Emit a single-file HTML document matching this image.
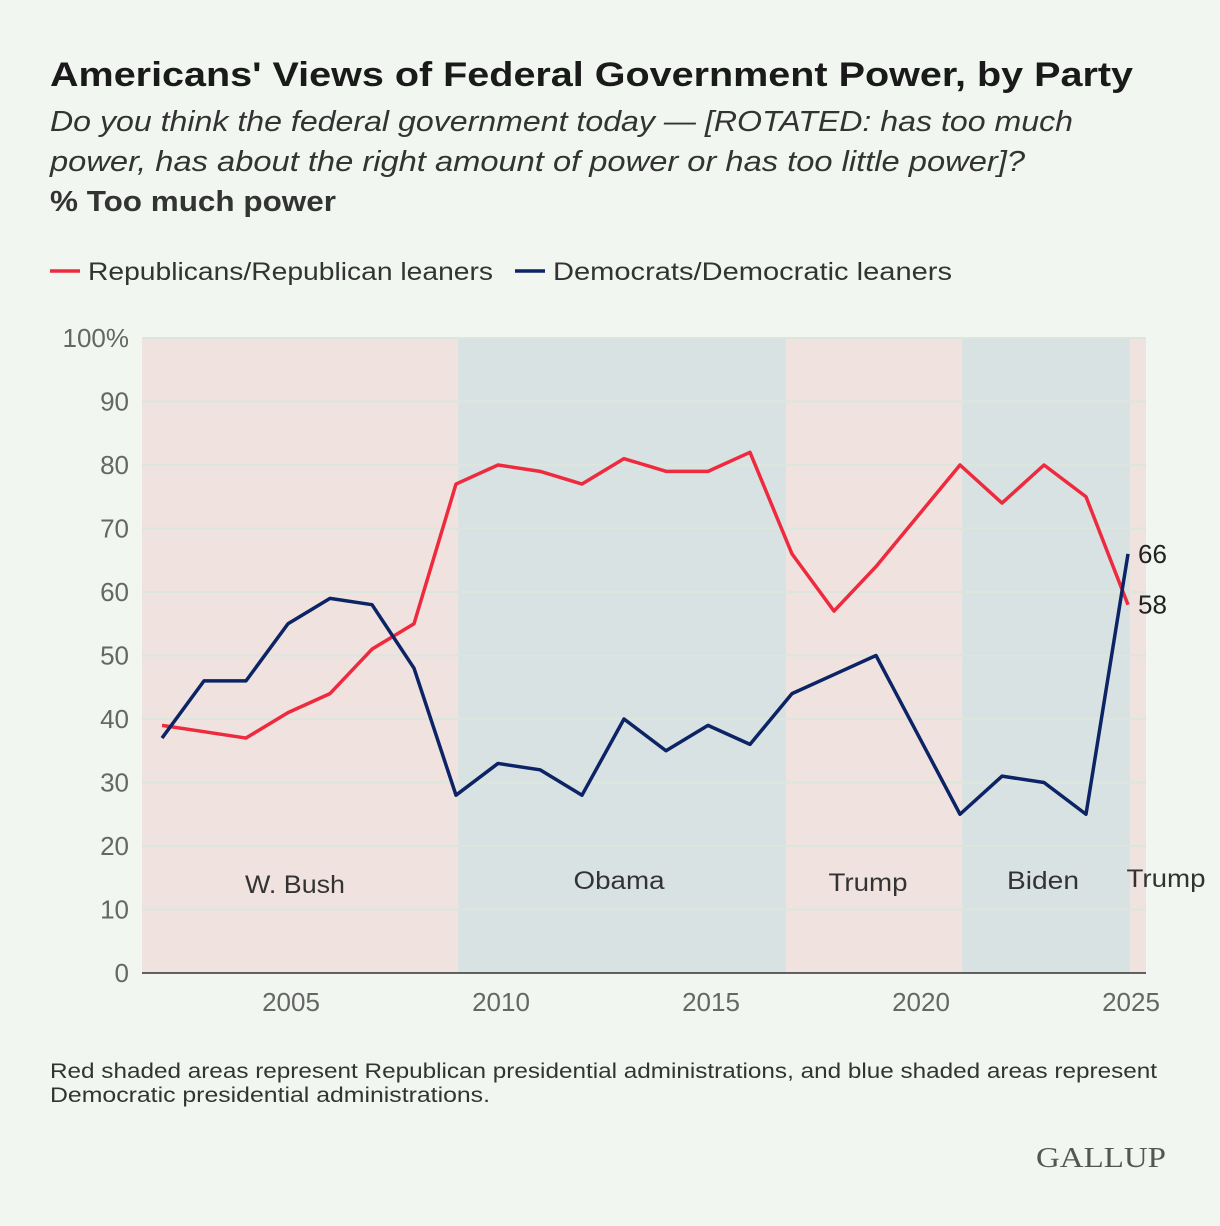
<!DOCTYPE html>
<html><head><meta charset="utf-8"><style>
body{margin:0;background:#f1f6f0;font-family:"Liberation Sans",sans-serif;}
#wrap{position:relative;width:1220px;height:1226px;background:#f1f6f0;overflow:hidden}
</style></head><body>
<div id="wrap">
<svg id="svg" width="1220" height="1226">
<text x="50" y="86" font-size="34" font-weight="bold" fill="#1a1a1a" textLength="1083" lengthAdjust="spacingAndGlyphs">Americans' Views of Federal Government Power, by Party</text>
<text x="50" y="131" font-size="29" font-style="italic" fill="#333" textLength="1023" lengthAdjust="spacingAndGlyphs">Do you think the federal government today — [ROTATED: has too much</text>
<text x="50" y="171" font-size="29" font-style="italic" fill="#333" textLength="975" lengthAdjust="spacingAndGlyphs">power, has about the right amount of power or has too little power]?</text>
<text x="50" y="211" font-size="29" font-weight="bold" fill="#333" textLength="286" lengthAdjust="spacingAndGlyphs">% Too much power</text>
<g>
<line x1="50" y1="271" x2="80" y2="271" stroke="#ee2a3e" stroke-width="3.5"/>
<text x="88" y="280" font-size="25" fill="#333" textLength="405" lengthAdjust="spacingAndGlyphs">Republicans/Republican leaners</text>
<line x1="515" y1="271" x2="545" y2="271" stroke="#0c2465" stroke-width="3.5"/>
<text x="553" y="280" font-size="25" fill="#333" textLength="399" lengthAdjust="spacingAndGlyphs">Democrats/Democratic leaners</text>
</g>
<g id="plot"></g>
<text x="50" y="1078" font-size="21" fill="#333" textLength="1107" lengthAdjust="spacingAndGlyphs">Red shaded areas represent Republican presidential administrations, and blue shaded areas represent</text>
<text x="50" y="1102" font-size="21" fill="#333" textLength="440" lengthAdjust="spacingAndGlyphs">Democratic presidential administrations.</text>
<text x="1166" y="1167" font-size="29" font-family="Liberation Serif,serif" fill="#555" text-anchor="end" textLength="130" lengthAdjust="spacingAndGlyphs">GALLUP</text>
</svg>
</div>
<script>
const years=[2002,2003,2004,2005,2006,2007,2008,2009,2010,2011,2012,2013,2014,2015,2016,2017,2018,2019,2021,2022,2023,2024,2025];
const repValues=[39,38,37,41,44,51,55,77,80,79,77,81,79,79,82,66,57,64,80,74,80,75,58];
const demValues=[37,46,46,55,59,58,48,28,33,32,28,40,35,39,36,44,47,50,25,31,30,25,66];
const yTicks=[0,10,20,30,40,50,60,70,80,90,100];
const xTicks=[2005,2010,2015,2020,2025];
const admins=[["W. Bush","r",2001.5,2009.05],["Obama","b",2009.05,2016.86],["Trump","r",2016.86,2021.05],["Biden","b",2021.05,2025.05],["Trump","r",2025.05,2026]];
const NS="http://www.w3.org/2000/svg";
const L=142,R=1146,T=338,B=973;
const x=v=>162+(v-2002)*42.0;
const y=v=>B-(v/100)*(B-T);
const g=document.getElementById('plot');
function mk(t,a){const e=document.createElementNS(NS,t);for(const k in a)e.setAttribute(k,a[k]);g.appendChild(e);return e;}
const labelPos=[[295,893,100],[619,889,91],[868,891,79],[1043,889,72],[1166,887,79]];
admins.forEach((a,i)=>{
 const x0=Math.max(L,x(a[2])),x1=Math.min(R,x(a[3]));
 const r=mk('rect',{x:x0,y:T,width:x1-x0,height:B-T,fill:a[1]=='r'?'#f0e3df':'#d9e2e2'});
 
 
 const p=labelPos[i];
 const t=mk('text',{x:p[0],y:p[1],'font-size':25,fill:'#333','text-anchor':'middle',textLength:p[2],lengthAdjust:'spacingAndGlyphs'});
 t.textContent=a[0];
 
 
});
yTicks.forEach(v=>{
 const l=mk('line',{x1:L,x2:R,y1:y(v),y2:y(v),stroke:v==0?'#333':'#dde6dd','stroke-width':v==0?1.5:2});
 
 
 const t=mk('text',{x:129,y:y(v)+9,'font-size':26,fill:'#666','text-anchor':'end'});
 t.textContent=v==100?'100%':v;
 
 
});
xTicks.forEach(v=>{
 const t=mk('text',{x:x(v)+3,y:1011,'font-size':26,fill:'#666','text-anchor':'middle'});
 t.textContent=v;
 
 
});
function line(vals,col,name){
 const p=mk('polyline',{points:years.map((yr,i)=>x(yr)+','+y(vals[i])).join(' '),fill:'none',stroke:col,'stroke-width':3.5,'stroke-linejoin':'round'});
 
 
 const n=vals.length-1;
 const t=mk('text',{x:x(years[n])+10,y:y(vals[n])+9,'font-size':26,fill:'#222'});
 t.textContent=vals[n];
 
 
}
line(repValues,'#ee2a3e','republican-line');
line(demValues,'#0c2465','democrat-line');
</script>
</body></html>
